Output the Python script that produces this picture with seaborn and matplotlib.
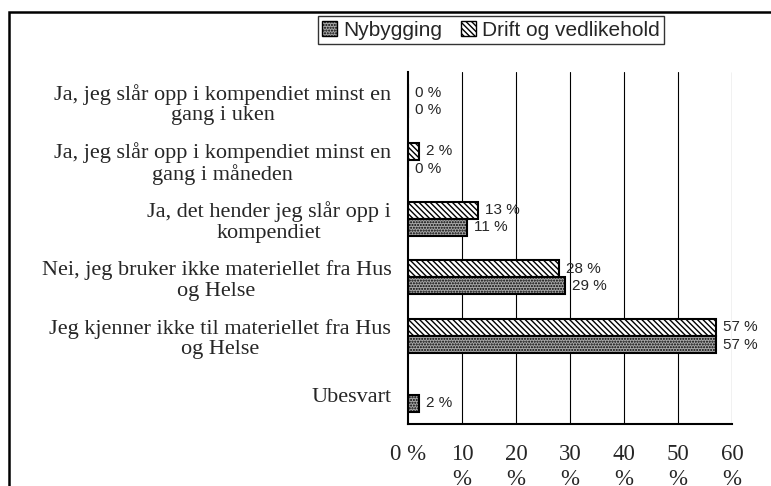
import numpy as np
import pandas as pd
import matplotlib
matplotlib.use("Agg")
import matplotlib.pyplot as plt
import seaborn as sns
from matplotlib.patches import Patch, Rectangle

# survey answers (top to bottom)
categories = [
    "Ja, jeg slår opp i kompendiet minst en\ngang i uken",
    "Ja, jeg slår opp i kompendiet minst en\ngang i måneden",
    "Ja, det hender jeg slår opp i\nkompendiet",
    "Nei, jeg bruker ikke materiellet fra Hus\nog Helse",
    "Jeg kjenner ikke til materiellet fra Hus\nog Helse",
    "Ubesvart",
]
drift = [0, 2, 13, 28, 57, np.nan]
nybygging = [0, 0, 11, 29, 57, 2]
series = ["Drift og vedlikehold", "Nybygging"]
xticks = [0, 10, 20, 30, 40, 50, 60]
xtick_labels = ["0 %", "10\n%", "20\n%", "30\n%", "40\n%", "50\n%", "60\n%"]

df = pd.DataFrame({
    "kategori": categories * 2,
    "serie": [series[0]] * len(categories) + [series[1]] * len(categories),
    "andel": drift + nybygging,
})

sns.set_style("white")
plt.rcParams["font.family"] = ["Liberation Sans", "DejaVu Sans"]

fig = plt.figure(figsize=(7.71, 4.86), dpi=100)
ax = fig.add_axes([408 / 771, 1 - 424 / 486, 324 / 771, 352 / 486])

sns.barplot(data=df, y="kategori", x="andel", hue="serie", hue_order=series,
            order=categories, orient="h", width=0.58, ax=ax, legend=False,
            palette=["white", "#a8a8a8"], edgecolor="black", linewidth=1.5)

hatches = {series[0]: "\\\\\\\\\\\\", series[1]: "......"}
for cont, name in zip(ax.containers, series):
    for bar in cont:
        bar.set_hatch(hatches[name])
        w = bar.get_width()
        if np.isnan(w):
            continue
        ax.annotate(f"{w:g} %", (w, bar.get_y() + bar.get_height() / 2),
                    xytext=(5, 0), textcoords="offset points",
                    va="center", ha="left", fontsize=11)

ax.set_xlim(0, 60)
ax.set_ylim(len(categories) - 0.5, -0.5)
ax.set_xticks(xticks)
ax.set_xticklabels(xtick_labels, family="Liberation Serif", fontsize=16.5,
                   linespacing=1.25)
ax.set_yticks(range(len(categories)))
ax.set_yticklabels(categories, family="Liberation Serif", fontsize=16,
                   multialignment="center", linespacing=1.1)
ax.set_yticks(np.arange(-0.5, len(categories)), minor=True)
ax.tick_params(axis="y", which="major", length=0, pad=12)
ax.tick_params(axis="y", which="minor", length=6, width=1.5, direction="out",
               color="black")
ax.tick_params(axis="x", length=7, width=1.5, direction="inout", pad=11,
               color="black")
ax.set_xlabel("")
ax.set_ylabel("")
for x in xticks[1:]:
    ax.axvline(x, color="black", lw=0.8, zorder=0)
for side in ["top", "right"]:
    ax.spines[side].set_visible(False)
for side in ["left", "bottom"]:
    ax.spines[side].set_color("black")
    ax.spines[side].set_linewidth(1.5)

handles = [Patch(facecolor="#a8a8a8", edgecolor="black", hatch="......"),
           Patch(facecolor="white", edgecolor="black", hatch="\\\\\\\\\\\\")]
leg = fig.legend(handles, ["Nybygging", "Drift og vedlikehold"], ncol=2,
                 loc="center", bbox_to_anchor=(491 / 771, 1 - 30 / 486),
                 fontsize=15, frameon=True, fancybox=False, handlelength=0.7,
                 handleheight=0.7, handletextpad=0.3, columnspacing=0.9,
                 borderpad=0.2, borderaxespad=0)
leg.get_frame().set_edgecolor("black")
leg.get_frame().set_linewidth(1)

fig.patches.append(Rectangle((9 / 771, -0.05), 1.1, 1 - 12 / 486 + 0.05,
                             transform=fig.transFigure, fill=False,
                             edgecolor="black", linewidth=1.8))

fig.savefig("out.png", dpi=100)
